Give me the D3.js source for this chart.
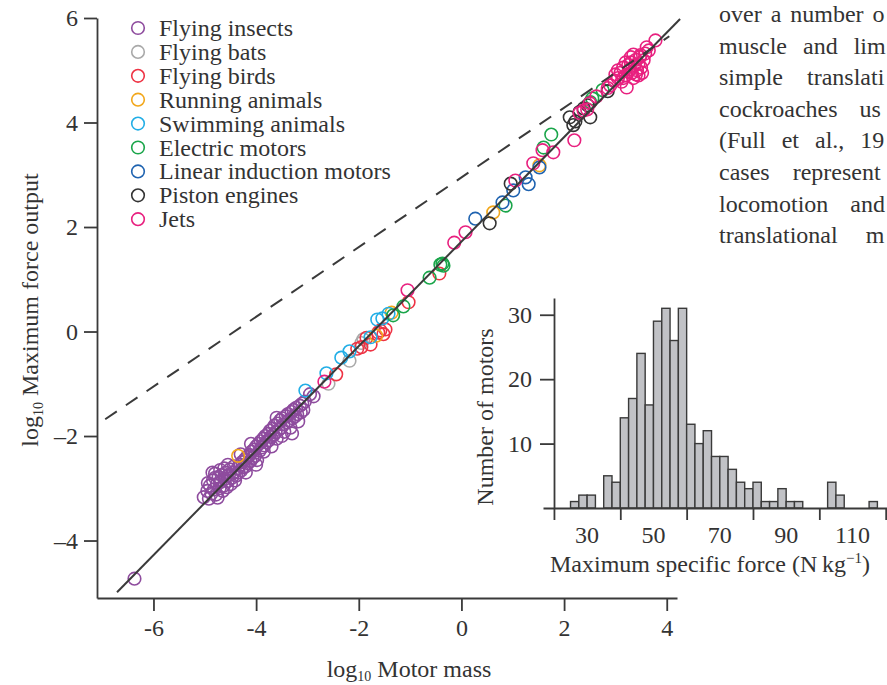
<!DOCTYPE html>
<html><head><meta charset="utf-8">
<script src="https://cdn.jsdelivr.net/npm/d3@7"></script>
<style>
body{margin:0;background:#fff;}
svg{display:block;font-family:"Liberation Serif","Times New Roman",serif;}
</style></head><body>
<svg id="c" width="887" height="685"></svg>
<script>
// ---------- DATA ----------
const categories = ["Flying insects","Flying bats","Flying birds","Running animals","Swimming animals","Electric motors","Linear induction motors","Piston engines","Jets"];
const catColors = ["#8e4c9e","#a9a9a9","#ee3344","#f2a71b","#22aee6","#1aa54a","#1f63b0","#333333","#e8207f"];

const insects = [[-5.02,-3.17],[-4.95,-3.05],[-4.92,-3.20],[-4.90,-2.95],[-4.87,-3.10],[-4.84,-2.85],[-4.82,-3.02],[-4.80,-2.80],[-4.78,-3.12],[-4.76,-2.92],[-4.73,-2.78],[-4.71,-3.00],[-4.69,-2.88],[-4.67,-2.75],[-4.65,-3.05],[-4.63,-2.95],[-4.61,-2.82],[-4.59,-2.70],[-4.57,-2.98],[-4.55,-2.86],[-4.53,-2.75],[-4.51,-2.64],[-4.49,-2.92],[-4.47,-2.80],[-4.45,-2.70],[-4.43,-2.58],[-4.41,-2.85],[-4.39,-2.76],
[-4.80,-2.72],[-4.62,-2.62],[-4.94,-2.90],[-4.75,-3.18],
[-4.36,-2.62],[-4.34,-2.70],[-4.31,-2.55],[-4.29,-2.66],[-4.27,-2.50],[-4.25,-2.60],[-4.22,-2.45],[-4.20,-2.58],[-4.18,-2.40],[-4.16,-2.52],[-4.13,-2.36],[-4.11,-2.48],[-4.09,-2.30],[-4.07,-2.42],[-4.04,-2.26],[-4.02,-2.38],[-4.00,-2.20],[-3.98,-2.46],[-3.95,-2.15],[-3.93,-2.28],[-3.91,-2.10],[-3.89,-2.22],[-3.86,-2.05],[-3.84,-2.18],[-3.82,-2.00],[-3.80,-2.12],[-3.77,-1.96],[-3.75,-2.08],[-3.73,-1.90],[-3.71,-2.02],[-3.68,-1.86],[-3.66,-1.98],[-3.64,-1.80],[-3.62,-1.93],[-3.60,-2.05],
[-3.58,-1.76],[-3.56,-1.88],[-3.53,-1.70],[-3.51,-1.84],[-3.49,-1.66],[-3.47,-1.78],[-3.45,-1.92],[-3.42,-1.62],[-3.40,-1.74],[-3.38,-1.58],[-3.36,-1.70],[-3.33,-1.84],[-3.31,-1.54],[-3.29,-1.66],[-3.27,-1.50],[-3.24,-1.62],[-3.22,-1.46],[-3.20,-1.58],[-3.18,-1.72],[-3.15,-1.42],[-3.13,-1.55],[-3.10,-1.38],[-3.08,-1.50],[-3.05,-1.34],[-2.95,-1.20],[-2.88,-1.24],
[-4.55,-2.55],[-4.20,-2.70],[-4.00,-2.55],[-3.85,-2.30],[-3.70,-2.20],[-3.50,-2.00],[-3.30,-1.95],[-3.60,-1.65],[-4.10,-2.15],[-4.30,-2.35],[-4.70,-2.65],[-4.85,-2.70],[-6.37,-4.73]];
const bats = [[-2.59,-1.00],[-2.18,-0.56],[-1.91,-0.15],[-1.95,-0.22]];
const birds = [[-2.44,-0.82],[-2.03,-0.33],[-1.95,-0.30],[-1.77,-0.25],[-1.85,-0.12],[-1.62,-0.02],[-1.58,0.02],[-1.52,-0.05],[-1.48,0.04],[-1.03,0.56],[-0.43,1.11]];
const running = [[-4.35,-2.38],[-1.66,-0.08],[-1.36,0.36],[0.62,2.28],[1.52,3.18]];
const swimming = [[-3.04,-1.13],[-2.63,-0.80],[-2.34,-0.50],[-2.18,-0.38],[-1.77,-0.11],[-1.64,0.23],[-1.54,0.25],[-1.42,0.34]];
const electric = [[-1.33,0.31],[-1.13,0.48],[-0.62,1.03],[-0.37,1.30],[-0.35,1.26],[-0.41,1.28],[0.86,2.41],[1.60,3.52],[1.75,3.77],[2.51,4.39],[2.55,4.46],[2.75,4.62]];
const linearMotors = [[0.27,2.16],[0.80,2.47],[1.01,2.70],[1.31,2.82],[1.25,2.95],[1.52,3.14]];
const piston = [[0.55,2.07],[0.96,2.83],[2.18,3.95],[2.11,4.10],[2.51,4.10],[2.22,4.02],[2.46,4.33],[2.38,4.27],[2.30,4.20],[2.85,4.60]];
const jets = [[-2.67,-0.96],[-1.05,0.79],[-0.14,1.70],[0.08,1.90],[1.05,2.89],[1.40,3.22],[1.58,3.47],[1.79,3.43],[2.20,3.66],
[2.30,4.18],[2.38,4.23],[2.45,4.25],[2.50,4.37],[2.63,4.50],[2.85,4.66],[2.90,4.71],[2.98,4.80],[3.05,4.85],[3.10,4.95],[3.15,5.05],[3.20,4.90],[3.22,4.67],[3.25,5.10],[3.28,5.02],[3.30,5.15],[3.32,4.95],[3.35,4.85],[3.38,5.10],[3.40,5.20],[3.42,5.00],[3.45,5.12],[3.48,5.25],[3.50,5.05],[3.52,4.95],[3.55,5.19],[3.49,5.29],[3.61,5.44],[3.65,5.38],[3.78,5.57],[3.58,5.32],[3.40,4.92],[3.15,4.85],[3.05,5.00],[3.20,5.15],[3.30,5.25],[3.35,5.30],[3.12,4.78],[3.45,4.90],[3.00,4.92],[3.26,4.98]];
const seriesData = [insects,bats,birds,running,swimming,electric,linearMotors,piston,jets];

const fitX = [-6.71, 4.26], fitY = [-4.99, 5.98];
const dashX = [-6.94, 4.05], dashY = [-1.68, 5.65];

const xTicks = [-6,-4,-2,0,2,4], xTickLabels = ["-6","-4","-2","0","2","4"];
const yTicks = [-4,-2,0,2,4,6], yTickLabels = ["\u2013 4","\u2013 2","0","2","4","6"];

// histogram
const binStarts = [25,27.5,30,32.5,35,37.5,40,42.5,45,47.5,50,52.5,55,57.5,60,62.5,65,67.5,70,72.5,75,77.5,80,82.5,85,87.5,90,92.5,95,97.5,100,102.5,105,107.5,110,112.5,115];
const binCounts = [1,2,2,0,5,4,14,17,24,16,29,31,26,31,13,10,12,8,8,6,4,3,4,1,1,3,1,1,0,0,0,4,2,0,0,0,1];
const binWidth = 2.5;
const hTickVals = [20,40,60,80,100,120];
const hLabelVals = [30,50,70,90,110];
const hYTicks = [10,20,30];

// visible fragments of the surrounding page text
const pageLines = ["over a number o","muscle and lim","simple translati","cockroaches us","(Full et al., 19","cases represent","locomotion and","translational m"];
const pageSpacing = [3,10,18,16,10,17,16,22];

// ---------- DRAW ----------
const svg = d3.select("#c");
const ink = "#3a3a3a";
const x = d3.scaleLinear().domain([-7.1, 4.2]).range([97, 677]);
const y = d3.scaleLinear().domain([-5.1, 6]).range([598, 18]);

// page text on the right
svg.append("g").selectAll("text").data(pageLines).join("text")
  .attr("x", 719).attr("y", (d,i)=>22 + i*31.6)
  .attr("font-size", 24).attr("fill", "#333")
  .attr("word-spacing", (d,i)=>pageSpacing[i])
  .text(d=>d);

function styleAxis(g, fs){
  g.attr("font-family", null).attr("font-size", null);
  g.selectAll("path.domain").attr("stroke", ink).attr("stroke-width", 1.8);
  g.selectAll(".tick line").attr("stroke", ink).attr("stroke-width", 1.8);
  g.selectAll(".tick text").attr("fill", "#333").attr("font-size", fs)
    .attr("font-family", '"Liberation Serif","Times New Roman",serif');
}

const gx = svg.append("g").attr("transform", "translate(0,598)")
  .call(d3.axisBottom(x).tickValues(xTicks).tickFormat((d,i)=>xTickLabels[i]).tickSize(13).tickSizeOuter(0).tickPadding(8));
styleAxis(gx, 24);
const gy = svg.append("g").attr("transform", "translate(97,0)")
  .call(d3.axisLeft(y).tickValues(yTicks).tickFormat((d,i)=>yTickLabels[i]).tickSize(13).tickSizeOuter(0).tickPadding(6));
styleAxis(gy, 24);
gy.selectAll(".tick text").attr("word-spacing", -6);

// axis titles
const xt = svg.append("text").attr("x", 409).attr("y", 677).attr("text-anchor","middle").attr("font-size",24).attr("fill","#333");
xt.append("tspan").text("log");
xt.append("tspan").attr("font-size",14).attr("dy",4).text("10");
xt.append("tspan").attr("dy",-4).text(" Motor mass");
const yt = svg.append("text").attr("transform","translate(38,310) rotate(-90)").attr("text-anchor","middle").attr("font-size",24).attr("fill","#333");
yt.append("tspan").text("log");
yt.append("tspan").attr("font-size",14).attr("dy",5).text("10");
yt.append("tspan").attr("dy",-5).text(" Maximum force output");

// points
const pts = svg.append("g");
seriesData.forEach((arr, ci) => {
  pts.append("g").selectAll("circle").data(arr).join("circle")
    .attr("cx", d=>x(d[0])).attr("cy", d=>y(d[1])).attr("r", 6.3)
    .attr("fill","none").attr("stroke", catColors[ci]).attr("stroke-width", 1.6);
});

// lines
const line = d3.line().x(d=>x(d[0])).y(d=>y(d[1]));
svg.append("path").datum(d3.zip(dashX, dashY)).attr("d", line)
  .attr("stroke", ink).attr("stroke-width", 2).attr("fill","none").attr("stroke-dasharray","14,11");
svg.append("path").datum(d3.zip(fitX, fitY)).attr("d", line)
  .attr("stroke", ink).attr("stroke-width", 2).attr("fill","none");

// legend
const leg = svg.append("g");
categories.forEach((c,i)=>{
  const cy = 28 + i*23.9;
  leg.append("circle").attr("cx",138).attr("cy",cy).attr("r",6.3).attr("fill","#fff")
    .attr("stroke",catColors[i]).attr("stroke-width",1.6);
  leg.append("text").attr("x",159).attr("y",cy+8).attr("font-size",24).attr("fill","#333").text(c);
});

// ---------- HISTOGRAM INSET ----------
const hx = d3.scaleLinear().domain([16.7, 121]).range([543, 889]);
const hy = d3.scaleLinear().domain([0, 32.6]).range([508, 298]);
const hg = svg.append("g");
hg.append("rect").attr("x",543).attr("y",298).attr("width",344).attr("height",210).attr("fill","#fff");
hg.selectAll("rect.bar").data(binStarts.map((s,i)=>({s, c: binCounts[i]})).filter(d=>d.c>0)).join("rect")
  .attr("class","bar")
  .attr("x", d=>hx(d.s)).attr("width", d=>hx(d.s+binWidth)-hx(d.s))
  .attr("y", d=>hy(d.c)).attr("height", d=>hy(0)-hy(d.c))
  .attr("fill","#c1c2c6").attr("stroke", ink).attr("stroke-width",1.4);
const hxa = hg.append("g").attr("transform","translate(0,508)")
  .call(d3.axisBottom(hx).tickValues(hTickVals).tickFormat("").tickSize(12).tickSizeOuter(0));
styleAxis(hxa, 24);
hg.selectAll("text.hl").data(hLabelVals).join("text").attr("class","hl")
  .attr("x", d=>hx(d)).attr("y", 543).attr("text-anchor","middle").attr("font-size",24).attr("fill","#333").text(d=>d);
const hya = hg.append("g").attr("transform","translate(554,0)")
  .call(d3.axisLeft(hy).tickValues(hYTicks).tickSize(14).tickSizeOuter(0).tickPadding(8));
styleAxis(hya, 24);
const hxl = hg.append("text").attr("x", 710).attr("y", 572).attr("text-anchor","middle").attr("font-size",24).attr("fill","#333");
hxl.append("tspan").text("Maximum specific force (N\u2009kg");
hxl.append("tspan").attr("font-size",15).attr("dy",-9).text("\u22121");
hxl.append("tspan").attr("dy",9).text(")");
hg.append("text").attr("transform","translate(493,417) rotate(-90)").attr("text-anchor","middle")
  .attr("font-size",24).attr("fill","#333").text("Number of motors");
</script>
</body></html>
